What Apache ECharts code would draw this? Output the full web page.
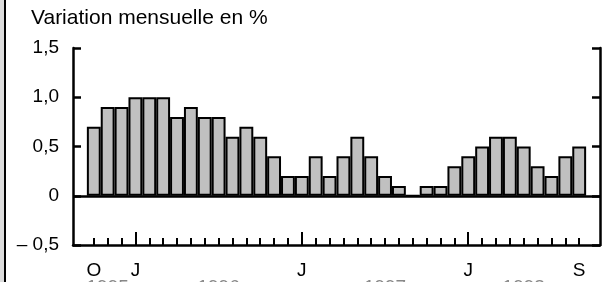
<!DOCTYPE html>
<html>
<head>
<meta charset="utf-8">
<script src="https://cdn.jsdelivr.net/npm/echarts@6/dist/echarts.min.js"></script>
<style>
  html, body { margin: 0; padding: 0; background: #fff; }
  #chart { width: 603px; height: 282px; }
</style>
</head>
<body>
<div id="chart"></div>
<script>
// mois d'octobre 1995 à septembre 1998
const months = ['O','N','D','J','F','M','A','M','J','J','A','S',
                'O','N','D','J','F','M','A','M','J','J','A','S',
                'O','N','D','J','F','M','A','M','J','J','A','S'];
const values = [0.7, 0.9, 0.9, 1.0, 1.0, 1.0, 0.8, 0.9, 0.8, 0.8, 0.6, 0.7,
                0.6, 0.4, 0.2, 0.2, 0.4, 0.2, 0.4, 0.6, 0.4, 0.2, 0.1, 0,
                0.1, 0.1, 0.3, 0.4, 0.5, 0.6, 0.6, 0.5, 0.3, 0.2, 0.4, 0.5];
const shownMonths = [1, 4, 16, 28, 36];   // index des libellés affichés
const janIdx = [4, 16, 28];               // ticks longs (janvier)
const years = ['1995', '1996', '1997', '1998'];
const yearIdx = [2, 10, 22, 32];
const yTicks = [-0.5, 0, 0.5, 1, 1.5];
const yTickText = ['\u2013 0,5', '0', '0,5', '1,0', '1,5'];

// une catégorie vide de chaque côté
const categories = [''].concat(months, ['']);
const barData = [null].concat(values, [null]);

const font = "'Liberation Sans', Arial, sans-serif";
const chart = echarts.init(document.getElementById('chart'));

const baseX = {
  type: 'category',
  data: categories,
  gridIndex: 0,
  position: 'bottom',
  boundaryGap: true,
  axisLine: { show: false, onZero: false },
  axisTick: { show: false },
  axisLabel: { show: false },
  splitLine: { show: false }
};

const option = {
  animation: false,
  title: {
    text: 'Variation mensuelle en %',
    left: 31,
    top: 8,
    padding: 0,
    textStyle: { fontFamily: font, fontSize: 21, fontWeight: 'normal', color: '#000' }
  },
  graphic: [
    { type: 'rect', left: 0, top: 0, shape: { width: 4, height: 282 }, style: { fill: '#dcdcdc' } },
    { type: 'rect', left: 4, top: 0, shape: { width: 2, height: 282 }, style: { fill: '#000' } }
  ],
  grid: { left: 73, right: 3, top: 48, bottom: 37, containLabel: false, outerBoundsMode: 'none' },
  xAxis: [
    Object.assign({}, baseX, {
      axisLine: { show: true, onZero: false, lineStyle: { color: '#000', width: 2.5 } },
      axisTick: {
        show: true, inside: true, length: 7, alignWithLabel: true,
        interval: (i) => i >= 1 && i <= months.length,
        lineStyle: { color: '#000', width: 2 }
      },
      axisLabel: {
        show: true, margin: 16, fontFamily: font, fontSize: 19, color: '#000',
        interval: (i) => shownMonths.includes(i)
      }
    }),
    Object.assign({}, baseX, {
      axisTick: {
        show: true, inside: true, length: 13, alignWithLabel: true,
        interval: (i) => janIdx.includes(i),
        lineStyle: { color: '#000', width: 2 }
      }
    }),
    Object.assign({}, baseX, {
      axisLabel: {
        show: true, margin: 33, fontFamily: font, fontSize: 19, color: '#888',
        interval: (i) => yearIdx.includes(i),
        formatter: (v, i) => years[yearIdx.indexOf(i)] || ''
      }
    })
  ],
  yAxis: [
    {
      type: 'value', min: -0.5, max: 1.5, interval: 0.5, position: 'left',
      axisLine: { show: true, lineStyle: { color: '#000', width: 2.5 } },
      axisTick: { show: true, inside: true, length: 8, lineStyle: { color: '#000', width: 2.5 } },
      axisLabel: {
        margin: 14, fontFamily: font, fontSize: 19, color: '#000',
        formatter: (v) => yTickText[yTicks.indexOf(Math.round(v * 10) / 10)]
      },
      splitLine: { show: false }
    },
    {
      type: 'value', min: -0.5, max: 1.5, interval: 0.5, position: 'right',
      axisLine: { show: true, lineStyle: { color: '#000', width: 2.5 } },
      axisTick: { show: true, inside: true, length: 8, lineStyle: { color: '#000', width: 2.5 } },
      axisLabel: { show: false },
      splitLine: { show: false }
    }
  ],
  series: [
    {
      type: 'bar',
      xAxisIndex: 0,
      yAxisIndex: 0,
      data: barData,
      barCategoryGap: '0%',
      itemStyle: { color: '#c0c0c0', borderColor: '#000', borderWidth: 2 },
      markLine: {
        silent: true,
        symbol: ['none', 'none'],
        label: { show: false },
        lineStyle: { color: '#000', width: 2.5, type: 'solid' },
        data: [{ yAxis: 0 }]
      }
    }
  ]
};

chart.setOption(option);
</script>
</body>
</html>
